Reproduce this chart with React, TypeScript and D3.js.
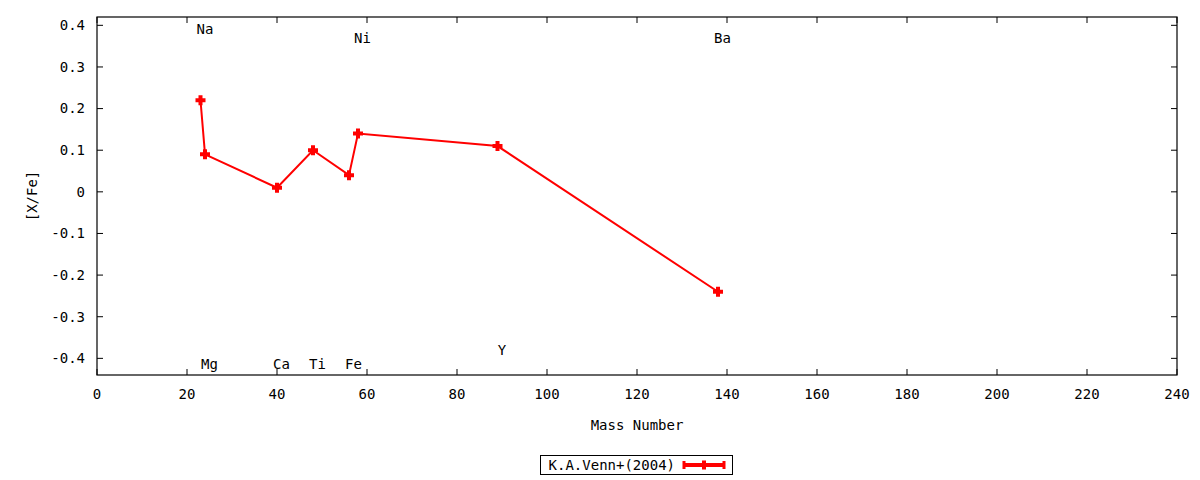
import React from 'react';
import * as d3 from 'd3';

const ELEMENTS = ['Na', 'Mg', 'Ca', 'Ti', 'Fe', 'Ni', 'Y', 'Ba'];
const MASS = [23, 24, 40, 48, 56, 58, 89, 138];
const XFE = [0.22, 0.09, 0.01, 0.1, 0.04, 0.14, 0.11, -0.24];
// where each element name is written (y in [X/Fe] units)
const LABEL_Y = [0.39, -0.415, -0.415, -0.415, -0.415, 0.37, -0.38, 0.37];
const X_TICKS = d3.range(0, 241, 20);
const Y_TICKS = [0.4, 0.3, 0.2, 0.1, 0, -0.1, -0.2, -0.3, -0.4];
const SERIES_NAME = 'K.A.Venn+(2004)';

const WIDTH = 1200;
const HEIGHT = 480;
const FONT = '"DejaVu Sans Mono", "Liberation Mono", monospace';
const RED = '#ff0000';

const margin = { top: 17, right: 23, bottom: 105, left: 97 };

const plusPath = (s: number) => {
  const a = s / 2;
  const b = 2;
  return `M${-a},${-b}H${-b}V${-a}H${b}V${-b}H${a}V${b}H${b}V${a}H${-b}V${b}H${-a}Z`;
};

export default function App() {
  const innerW = WIDTH - margin.left - margin.right;
  const innerH = HEIGHT - margin.top - margin.bottom;

  const x = d3.scaleLinear().domain([0, 240]).range([0, innerW]);
  const y = d3.scaleLinear().domain([-0.44, 0.42]).range([innerH, 0]);

  const pts: [number, number][] = MASS.map((m, i) => [m, XFE[i]]);
  const line = d3
    .line<[number, number]>()
    .x((d) => x(d[0]))
    .y((d) => y(d[1]));

  const fmt = (v: number) => (Math.abs(v) < 1e-9 ? '0' : v.toFixed(1));
  const tick = 6;

  return (
    <svg
      width={WIDTH}
      height={HEIGHT}
      style={{ position: 'absolute', left: 0, top: 0, background: '#fff' }}
      fontFamily={FONT}
      fontSize={14}
    >
      <g transform={`translate(${margin.left},${margin.top})`}>
        {X_TICKS.map((t) => (
          <g key={`x${t}`} stroke="#000" strokeWidth={1}>
            <line x1={x(t)} x2={x(t)} y1={innerH} y2={innerH - tick} />
            <line x1={x(t)} x2={x(t)} y1={0} y2={tick} />
          </g>
        ))}
        {X_TICKS.map((t) => (
          <text key={`xl${t}`} x={x(t)} y={innerH + 24} textAnchor="middle" fill="#000">
            {t}
          </text>
        ))}
        {Y_TICKS.map((t) => (
          <g key={`y${t}`} stroke="#000" strokeWidth={1}>
            <line x1={0} x2={tick} y1={y(t)} y2={y(t)} />
            <line x1={innerW} x2={innerW - tick} y1={y(t)} y2={y(t)} />
          </g>
        ))}
        {Y_TICKS.map((t) => (
          <text key={`yl${t}`} x={-12} y={y(t)} dy="0.35em" textAnchor="end" fill="#000">
            {fmt(t)}
          </text>
        ))}
        <rect x={0} y={0} width={innerW} height={innerH} fill="none" stroke="#000" strokeWidth={1.2} />

        <path d={line(pts) ?? ''} fill="none" stroke={RED} strokeWidth={2} />
        {pts.map((p, i) => (
          <path key={`p${i}`} d={plusPath(10)} transform={`translate(${x(p[0])},${y(p[1])})`} fill={RED} />
        ))}

        {ELEMENTS.map((el, i) => (
          <text
            key={el}
            x={x(MASS[i] + 1)}
            y={y(LABEL_Y[i])}
            dy="0.35em"
            textAnchor="middle"
            fill="#000"
          >
            {el}
          </text>
        ))}
      </g>

      <text x={margin.left + innerW / 2} y={430} textAnchor="middle" fill="#000">
        Mass Number
      </text>
      <text
        transform={`translate(37,${margin.top + innerH / 2}) rotate(-90)`}
        textAnchor="middle"
        fill="#000"
      >
        [X/Fe]
      </text>

      <g transform="translate(540,455)">
        <rect x={0.5} y={0.5} width={192} height={19} fill="#fff" stroke="#000" strokeWidth={1} />
        <text x={135} y={10} dy="0.35em" textAnchor="end" fill="#000">
          {SERIES_NAME}
        </text>
        <line x1={143} x2={185} y1={10} y2={10} stroke={RED} strokeWidth={4} />
        <line x1={144} x2={144} y1={6} y2={14} stroke={RED} strokeWidth={3} />
        <line x1={184} x2={184} y1={6} y2={14} stroke={RED} strokeWidth={3} />
        <path d={plusPath(9)} transform="translate(164,10)" fill={RED} />
      </g>
    </svg>
  );
}
